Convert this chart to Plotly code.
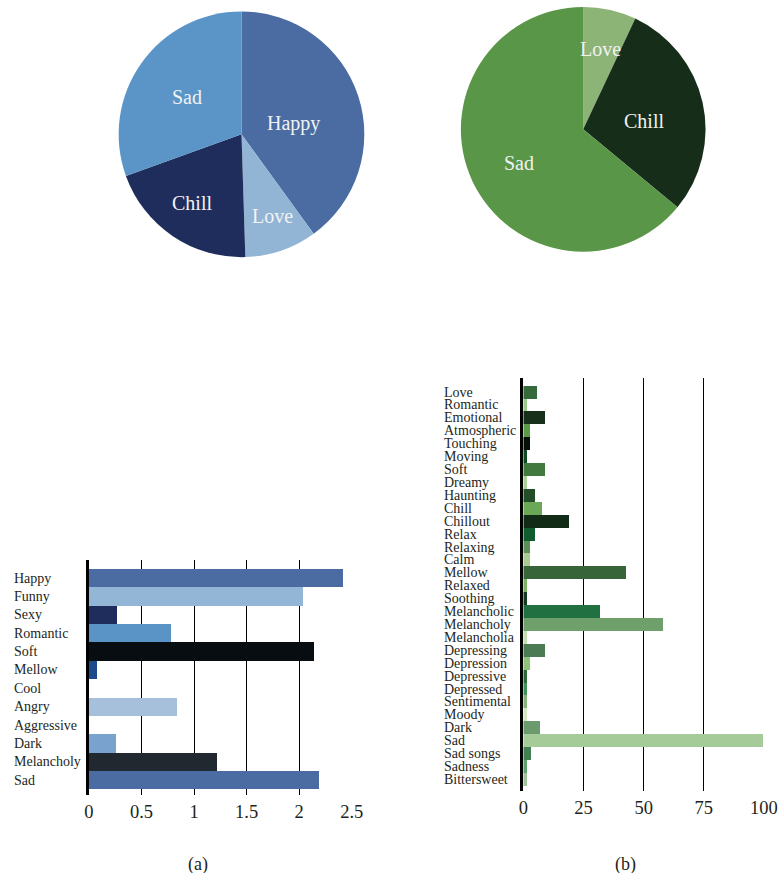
import math
import plotly.graph_objects as go

W, H = 781, 873
FONT = "Liberation Serif, Times New Roman, serif"

# ---------------- data ----------------
pie1_labels = ["Happy", "Love", "Chill", "Sad"]
pie1_values = [40, 9.5, 20, 30.5]
pie1_colors = ["#4A6CA2", "#92B5D5", "#1F2D5C", "#5B95C8"]

pie2_labels = ["Love", "Chill", "Sad"]
pie2_values = [7, 29, 64]
pie2_colors = ["#8DB477", "#162E19", "#5A9647"]

a_cats = ["Happy", "Funny", "Sexy", "Romantic", "Soft", "Mellow", "Cool",
          "Angry", "Aggressive", "Dark", "Melancholy", "Sad"]
a_vals = [2.42, 2.04, 0.27, 0.78, 2.14, 0.08, 0, 0.835, 0, 0.26, 1.22, 2.19]
a_colors = ["#4A6CA2", "#94B6D6", "#1F2D5D", "#5A94C7", "#080D12", "#1C4A8A",
            "#4A6CA2", "#A6C0DB", "#4A6CA2", "#79A3CE", "#22282F", "#4A6CA2"]
a_ticks = [0, 0.5, 1, 1.5, 2, 2.5]
a_ticktext = ["0", "0.5", "1", "1.5", "2", "2.5"]

b_cats = ["Love", "Romantic", "Emotional", "Atmospheric", "Touching", "Moving",
          "Soft", "Dreamy", "Haunting", "Chill", "Chillout", "Relax", "Relaxing",
          "Calm", "Mellow", "Relaxed", "Soothing", "Melancholic", "Melancholy",
          "Melancholia", "Depressing", "Depression", "Depressive", "Depressed",
          "Sentimental", "Moody", "Dark", "Sad", "Sad songs", "Sadness",
          "Bittersweet"]
b_vals = [6, 1.8, 9, 3, 3, 1.8, 9, 1.8, 5, 8, 19, 5, 3, 3, 43, 1.8, 1.8, 32,
          58.3, 1.8, 9, 3, 1.8, 1.8, 1.8, 1.8, 7, 100, 3.5, 1.8, 1.8]
b_colors = ["#356B3A", "#9CC88A", "#16301A", "#5A9B48", "#050F08", "#0D4A22",
            "#41793F", "#A9D098", "#234D28", "#6AA857", "#112B17", "#0F5D2E",
            "#5B8F5A", "#AACA94", "#376439", "#7DB464", "#133C1E", "#217041",
            "#6FA06B", "#C4DEB3", "#4B7B53", "#8FC17A", "#2C6A3A", "#3D9359",
            "#86B57C", "#D2E6C4", "#6C9A6F", "#A5CB98", "#427F51", "#5BA36B",
            "#A0C29B"]
b_ticks = [0, 25, 50, 75, 100]

captions = ["(a)", "(b)"]

# ---------------- layout helpers (page pixels -> paper) ----------------
# horizontal calibration: the rendered page maps paper x slightly narrower
SX, CX = 0.977, 3.5


def px(x):
    return min(1.0, max(0.0, (x - CX) / (SX * W)))


def pw(w):
    return w / (SX * W)


def py(y):
    return min(1.0, max(0.0, 1 - y / H))


fig = go.Figure()

# pies: label placement = radial fraction + small angular nudge (degrees)
pie_specs = [
    dict(labels=pie1_labels, values=pie1_values, colors=pie1_colors,
         cx=240.3, cy=134.3, r=123,
         frac=[0.43, 0.71, 0.69, 0.54], nudge=[6, -1.6, 1.2, -0.7]),
    dict(labels=pie2_labels, values=pie2_values, colors=pie2_colors,
         cx=582.5, cy=129.3, r=122.5,
         frac=[0.668, 0.50, 0.595], nudge=[-0.6, 4.8, -2.6]),
]
annotations = []
for s in pie_specs:
    x0 = px(s["cx"])
    half_w = pw(s["r"])
    fig.add_trace(go.Pie(
        labels=s["labels"], values=s["values"], sort=False,
        direction="clockwise", rotation=0,
        marker=dict(colors=s["colors"], line=dict(width=0)),
        textinfo="none", hoverinfo="label+value", showlegend=False,
        domain=dict(x=[max(0.0, x0 - half_w), min(1.0, x0 + half_w)],
                    y=[py(s["cy"] + s["r"]), py(s["cy"] - s["r"])]),
    ))
    total = sum(s["values"])
    cum = 0
    for lab, v, f, d in zip(s["labels"], s["values"], s["frac"], s["nudge"]):
        mid = (cum + v / 2) / total * 2 * math.pi + math.radians(d)
        cum += v
        xx = s["cx"] + f * s["r"] * math.sin(mid)
        yy = s["cy"] - f * s["r"] * math.cos(mid)
        annotations.append(dict(
            x=px(xx), y=py(yy), xref="paper", yref="paper", text=lab,
            showarrow=False, xanchor="center", yanchor="middle",
            font=dict(family=FONT, size=20, color="#F2F2F2")))

# bar (a)
fig.add_trace(go.Bar(
    x=a_vals, y=a_cats, orientation="h", marker=dict(color=a_colors, line=dict(width=0)),
    width=1.0, xaxis="x", yaxis="y", showlegend=False))
# bar (b)
fig.add_trace(go.Bar(
    x=b_vals, y=b_cats, orientation="h", marker=dict(color=b_colors, line=dict(width=0)),
    width=1.0, xaxis="x2", yaxis="y2", showlegend=False))

for cat in a_cats:
    annotations.append(dict(
        x=px(11), y=cat, xref="paper", yref="y", text=cat, showarrow=False,
        xanchor="left", yanchor="middle",
        font=dict(family=FONT, size=14, color="#231F20")))
for cat in b_cats:
    annotations.append(dict(
        x=px(441), y=cat, xref="paper", yref="y2", text=cat, showarrow=False,
        xanchor="left", yanchor="middle",
        font=dict(family=FONT, size=14, color="#231F20")))

for cap, cx in zip(captions, [197, 625]):
    annotations.append(dict(
        x=px(cx), y=py(864), xref="paper", yref="paper", text=cap,
        showarrow=False, xanchor="center", yanchor="middle",
        font=dict(family=FONT, size=18, color="#231F20")))

axis_common = dict(showgrid=True, gridcolor="#000000", gridwidth=1.3,
                   zeroline=False, showline=False, ticks="",
                   ticklabelstandoff=3,
                   tickfont=dict(family=FONT, size=18.5, color="#231F20"))

fig.update_layout(
    width=W, height=H, autosize=False, margin=dict(l=0, r=0, t=0, b=0),
    paper_bgcolor="white", plot_bgcolor="white", bargap=0,
    font=dict(family=FONT),
    xaxis=dict(domain=[px(87.5), px(350.7)], range=[0, 2.5],
               tickvals=a_ticks, ticktext=a_ticktext, anchor="y", **axis_common),
    yaxis=dict(domain=[py(795), py(560)], range=[11.8, -0.98],
               showticklabels=False, showgrid=False, zeroline=False,
               showline=True, linecolor="#000000", linewidth=2.5,
               categoryorder="array", categoryarray=a_cats, anchor="x"),
    xaxis2=dict(domain=[px(522.7), px(763.3)], range=[0, 100],
                tickvals=b_ticks, anchor="y2", **axis_common),
    yaxis2=dict(domain=[py(791), py(378)], range=[30.9, -1.09],
                showticklabels=False, showgrid=False, zeroline=False,
                showline=True, linecolor="#000000", linewidth=2.5,
                categoryorder="array", categoryarray=b_cats, anchor="x2"),
    annotations=annotations,
)

fig.write_html(
    "out.html",
    config={"responsive": False, "displayModeBar": False},
    post_script="document.body.style.margin='0';document.body.style.overflow='hidden';",
)
